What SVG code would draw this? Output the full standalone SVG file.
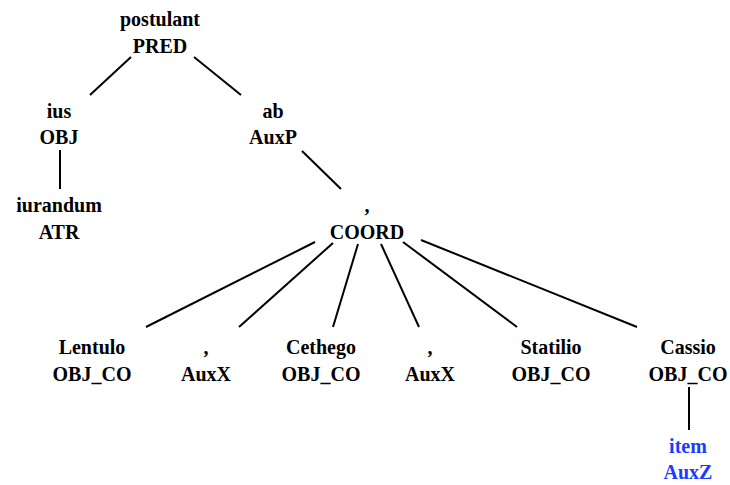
<svg xmlns="http://www.w3.org/2000/svg" width="730" height="485" viewBox="0 0 730 485">
<style>
text{font-family:"Liberation Serif","Times New Roman",serif;font-weight:bold;font-size:20px;text-anchor:middle;fill:#000}
.blue text{fill:#1a3cff}
#edges line{stroke:#000;stroke-width:2}
</style>
<rect width="730" height="485" fill="#fff"/>
<g id="edges">
<line x1="131" y1="57" x2="90" y2="95"/>
<line x1="194" y1="57" x2="241" y2="95"/>
<line x1="60" y1="150" x2="60" y2="189"/>
<line x1="302" y1="151" x2="341" y2="189"/>
<line x1="315" y1="242" x2="146" y2="327"/>
<line x1="333" y1="243" x2="239" y2="327"/>
<line x1="358" y1="244" x2="333" y2="327"/>
<line x1="381" y1="244" x2="419" y2="327"/>
<line x1="403" y1="242" x2="517" y2="327"/>
<line x1="421" y1="240" x2="637" y2="327"/>
<line x1="689" y1="387" x2="689" y2="430"/>
</g>
<g id="n_postulant"><text x="160" y="26">postulant</text><text x="160" y="53">PRED</text></g>
<g id="n_ius"><text x="59" y="118">ius</text><text x="59" y="144">OBJ</text></g>
<g id="n_ab"><text x="273" y="118">ab</text><text x="273" y="144">AuxP</text></g>
<g id="n_iurandum"><text x="59" y="212">iurandum</text><text x="59" y="239">ATR</text></g>
<g id="n_coord"><text x="367" y="212">,</text><text x="367" y="239">COORD</text></g>
<g id="n_lentulo"><text x="92" y="354">Lentulo</text><text x="92" y="381">OBJ_CO</text></g>
<g id="n_comma1"><text x="206" y="354">,</text><text x="206" y="381">AuxX</text></g>
<g id="n_cethego"><text x="321" y="354">Cethego</text><text x="321" y="381">OBJ_CO</text></g>
<g id="n_comma2"><text x="430" y="354">,</text><text x="430" y="381">AuxX</text></g>
<g id="n_statilio"><text x="551" y="354">Statilio</text><text x="551" y="381">OBJ_CO</text></g>
<g id="n_cassio"><text x="688" y="354">Cassio</text><text x="688" y="381">OBJ_CO</text></g>
<g id="n_item" class="blue"><text x="688" y="453">item</text><text x="688" y="479">AuxZ</text></g>
</svg>
